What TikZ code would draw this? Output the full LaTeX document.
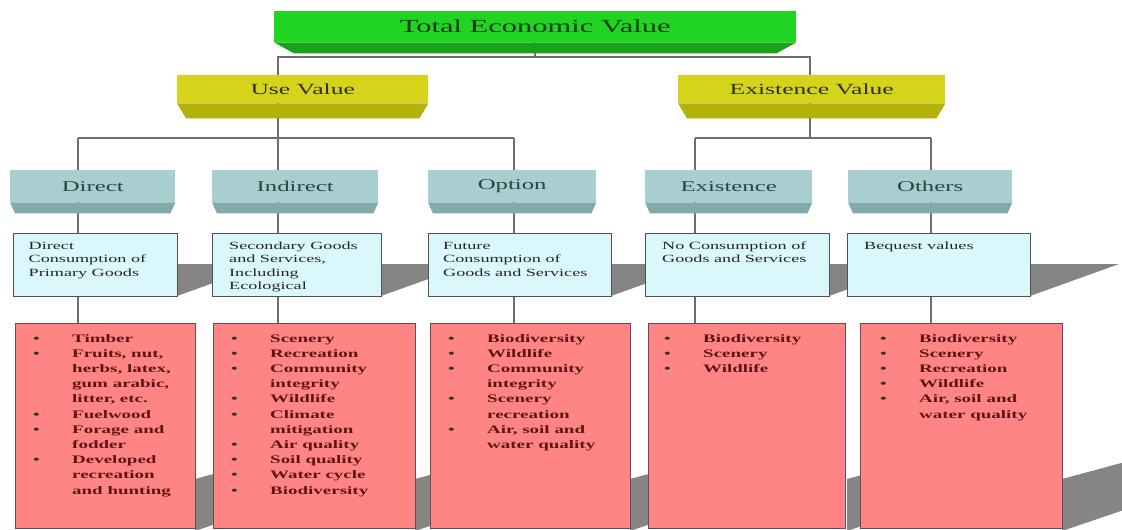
\documentclass[tikz,border=0pt]{standalone}
\usepackage{fontspec}
\setmainfont{Liberation Serif}[FakeStretch=1.65]
\usetikzlibrary{calc,backgrounds}
\definecolor{gtopc}{HTML}{22D422}
\definecolor{gbevc}{HTML}{17A317}
\definecolor{gtxtc}{HTML}{0C3A0C}
\definecolor{ytopc}{HTML}{D6D41A}
\definecolor{ybevc}{HTML}{B3B10C}
\definecolor{ytxtc}{HTML}{303020}
\definecolor{ttopc}{HTML}{A8CECF}
\definecolor{tbevc}{HTML}{82AAAB}
\definecolor{ttxtc}{HTML}{2A4444}
\definecolor{lfillc}{HTML}{DAF8FB}
\definecolor{lbordc}{HTML}{4E5252}
\definecolor{rfillc}{HTML}{FF8585}
\definecolor{rbordc}{HTML}{6A4C4C}
\definecolor{rtxtc}{HTML}{5E1414}
\definecolor{connc}{HTML}{6E6E6E}
\definecolor{slabc}{HTML}{858585}
\tikzset{
  gface/.style={fill=gtopc, text=gtxtc, font=\fontsize{18.5}{22}\selectfont},
  yface/.style={fill=ytopc, text=ytxtc, font=\fontsize{15.5}{19}\selectfont},
  tface/.style={fill=ttopc, text=ttxtc, font=\fontsize{15}{18}\selectfont},
  conn/.style={draw=connc, line width=1.6pt},
  slab/.style={fill=slabc, draw=none},
  lbox/.style={draw=lbordc, line width=1.3pt, fill=lfillc, anchor=north west, minimum height=63pt, inner sep=0pt},
  rbox/.style={draw=rbordc, line width=1.3pt, fill=rfillc, anchor=north west, minimum height=205pt, inner sep=0pt},
  ltext/.style={anchor=base west, inner sep=0pt, text=black!85},
  rtext/.style={anchor=base west, inner sep=0pt, text=rtxtc},
}
\newcommand\bbox[9]{%
  \node[#8face, anchor=north west, minimum width=#4pt, minimum height=#5pt, inner sep=0pt] (#1) at (#2,#3) {#9};
  \fill[#8bevc] (#1.south west) -- (#1.south east) -- ([xshift=-#7pt,yshift=-#6pt]#1.south east) -- ([xshift=#7pt,yshift=-#6pt]#1.south west) -- cycle;
}
\newcommand\ltxt[1]{\parbox[t]{200pt}{\fontsize{11}{13.3}\selectfont\raggedright #1}}
\newcommand\rtxt[1]{\parbox[t]{200pt}{\fontsize{11.5}{15.2}\selectfont\bfseries\raggedright #1}}
\newcommand\itm[1]{\par\hangindent=39pt\hangafter=1\noindent\makebox[39pt][l]{\textcolor{black!80}{\textbullet}}#1}
\begin{document}
\begin{tikzpicture}[x=1pt,y=-1pt]
\useasboundingbox (0,0) rectangle (1122,530);
% header boxes
\bbox{tev}{274}{11}{522}{31}{11}{20}{g}{Total Economic Value}
\bbox{uv}{177}{75}{251}{28}{15}{9}{y}{Use Value}
\bbox{ev}{678}{75}{267}{28}{15}{9}{y}{Existence Value}
\bbox{t1}{10}{170}{165}{32}{11}{5}{t}{Direct}
\bbox{t2}{212}{170}{166}{32}{11}{5}{t}{Indirect}
\bbox{t3}{428}{170}{168}{32}{11}{5}{t}{Option}
\bbox{t4}{645}{170}{167}{32}{11}{5}{t}{Existence}
\bbox{t5}{848}{170}{164}{32}{11}{5}{t}{Others}
% light boxes
\node[lbox, minimum width=164.5pt] (l1) at (12.5,233) {};
\node[lbox, minimum width=169pt] (l2) at (212,233) {};
\node[lbox, minimum width=183pt] (l3) at (428,233) {};
\node[lbox, minimum width=184pt] (l4) at (645,233) {};
\node[lbox, minimum width=183pt] (l5) at (847,233) {};
\node[ltext] (lt1) at (28.5,249.5) {\ltxt{Direct\\Consumption of\\Primary Goods}};
\node[ltext] (lt2) at (229,249.5) {\ltxt{Secondary Goods\\and Services,\\Including\\Ecological}};
\node[ltext] (lt3) at (443,249.5) {\ltxt{Future\\Consumption of\\Goods and Services}};
\node[ltext] (lt4) at (662,249.5) {\ltxt{No Consumption of\\Goods and Services}};
\node[ltext] (lt5) at (864,249.5) {\ltxt{Bequest values}};
% red boxes
\node[rbox, minimum width=180pt] (r1) at (15,323) {};
\node[rbox, minimum width=202pt] (r2) at (213,323) {};
\node[rbox, minimum width=200pt] (r3) at (430,323) {};
\node[rbox, minimum width=197pt] (r4) at (648,323) {};
\node[rbox, minimum width=202pt] (r5) at (860,323) {};
\node[rtext] (rt1) at (33,342) {\rtxt{\itm{Timber}\itm{Fruits, nut,\newline herbs, latex,\newline gum arabic,\newline litter, etc.}\itm{Fuelwood}\itm{Forage and\newline fodder}\itm{Developed\newline recreation\newline and hunting}}};
\node[rtext] (rt2) at (231,342) {\rtxt{\itm{Scenery}\itm{Recreation}\itm{Community\newline integrity}\itm{Wildlife}\itm{Climate\newline mitigation}\itm{Air quality}\itm{Soil quality}\itm{Water cycle}\itm{Biodiversity}}};
\node[rtext] (rt3) at (448,342) {\rtxt{\itm{Biodiversity}\itm{Wildlife}\itm{Community\newline integrity}\itm{Scenery\newline recreation}\itm{Air, soil and\newline water quality}}};
\node[rtext] (rt4) at (664,342) {\rtxt{\itm{Biodiversity}\itm{Scenery}\itm{Wildlife}}};
\node[rtext] (rt5) at (880,342) {\rtxt{\itm{Biodiversity}\itm{Scenery}\itm{Recreation}\itm{Wildlife}\itm{Air, soil and\newline water quality}}};
% connector positions
\coordinate (c1) at (78,0);
\coordinate (c2) at (278,0);
\coordinate (c3) at (514,0);
\coordinate (c4) at (695,0);
\coordinate (c5) at (931,0);
\coordinate (cu) at (278,0);
\coordinate (ce) at (810,0);
\coordinate (bar1) at (535,57);
\coordinate (bar2) at (278,138);
\coordinate (bar3) at (810,138);
\begin{pgfonlayer}{background}
  % shadow slabs
  \foreach \xr in {177,381,611,829,1030}
    \fill[slab] (\xr,264) -- (\xr+89,264) -- (\xr,296) -- cycle;
  \foreach \xr in {195,415,630,847,1062}
    \fill[slab] (\xr,479) -- (\xr+100,452) -- (\xr+100,497) -- (\xr,531) -- cycle;
  % connectors
  \draw[conn] (tev.south) -- (bar1) -| (uv.north -| cu);
  \draw[conn] (bar1) -| (ev.north -| ce);
  \draw[conn] (uv.south -| cu) -- (bar2);
  \draw[conn] (c1 |- bar2) -- (c3 |- bar2);
  \draw[conn] (ev.south -| ce) -- (bar3);
  \draw[conn] (c4 |- bar3) -- (c5 |- bar3);
  \draw[conn] (c1 |- bar2) -- (t1.north -| c1);
  \draw[conn] (c2 |- bar2) -- (t2.north -| c2);
  \draw[conn] (c3 |- bar2) -- (t3.north -| c3);
  \draw[conn] (c4 |- bar3) -- (t4.north -| c4);
  \draw[conn] (c5 |- bar3) -- (t5.north -| c5);
  \foreach \i in {1,...,5} {
    \draw[conn] (t\i.south -| c\i) -- (l\i.north -| c\i);
    \draw[conn] (l\i.south -| c\i) -- (r\i.north -| c\i);
  }
\end{pgfonlayer}
\end{tikzpicture}
\end{document}
